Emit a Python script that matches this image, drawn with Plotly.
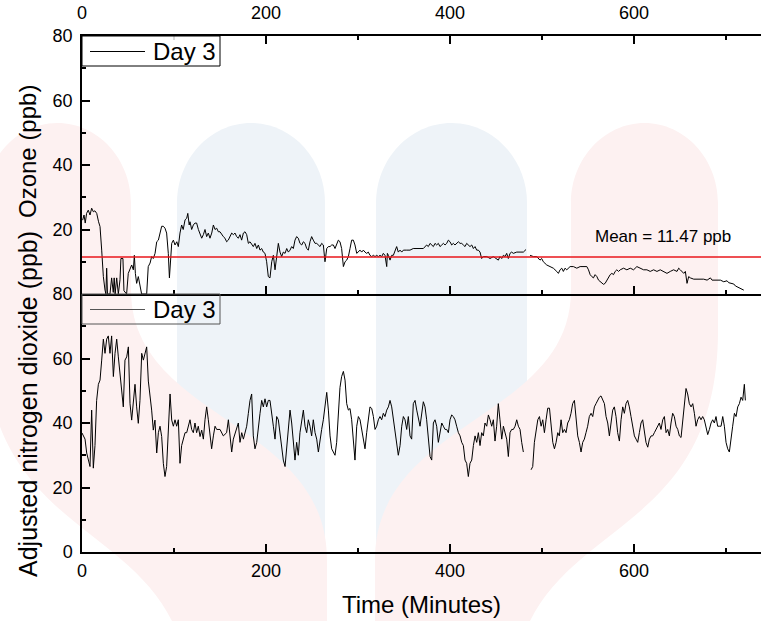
import plotly.graph_objects as go

# ---------------- data ----------------
ozone_time = [0.7, 2.2, 3.5, 5.0, 6.8, 8.7, 10.5, 12.3, 14.0, 16.0, 18.0, 19.6, 21.4, 23.2, 25.0, 26.0, 26.8, 27.7,
              30.4, 32.2, 34.0, 35.0, 36.0, 37.7, 39.5, 41.3, 42.3, 44.5, 45.6, 48.5, 50.3, 52.2, 54.0, 55.8, 56.9,
              58.0, 59.4, 61.2, 63.0, 64.8, 68.5, 70.3, 72.0, 74.0, 75.7, 77.5, 79.4, 81.2, 83.0, 84.8, 86.6, 88.4,
              90.2, 92.0, 93.8, 95.0, 96.4, 97.5, 99.3, 101.1, 103.0, 104.7, 106.5, 108.3, 110.0, 112.0, 113.8,
              115.0, 116.5, 117.4, 119.2, 121.0, 122.8, 124.6, 126.5, 128.3, 130.1, 131.9, 133.7, 135.5, 137.3,
              139.1, 141.0, 142.8, 144.6, 146.4, 148.2, 150.0, 151.8, 153.6, 155.4, 157.2, 159.0, 160.9, 162.7,
              164.5, 166.3, 168.1, 169.9, 171.7, 173.5, 175.4, 177.2, 179.0, 180.8, 182.6, 184.4, 186.2, 188.0,
              189.9, 191.7, 193.5, 195.3, 197.1, 198.9, 200.7, 202.5, 204.3, 206.2, 208.0, 209.8, 211.6, 213.4,
              215.2, 217.0, 218.8, 220.7, 222.5, 224.3, 226.1, 227.9, 229.7, 231.5, 233.3, 235.1, 236.9, 238.8,
              240.6, 242.4, 244.2, 246.0, 247.8, 249.6, 251.4, 253.3, 255.1, 256.9, 258.7, 260.5, 262.3, 264.1,
              265.2, 266.0, 267.8, 269.6, 271.4, 273.2, 275.0, 276.8, 278.6, 280.4, 282.2, 284.1, 285.9, 287.7,
              289.5, 291.3, 293.1, 294.9, 296.7, 298.6, 300.4, 302.2, 304.0, 305.8, 307.6, 309.4, 311.2, 313.0,
              314.9, 316.7, 318.5, 320.3, 322.1, 323.9, 325.7, 327.5, 329.3, 331.2, 331.9, 333.0, 334.8, 336.6,
              338.4, 340.2, 342.0, 343.8, 345.7, 347.5, 349.3, 353.0, 356.5, 360.0, 363.8, 367.4,
              371.0, 374.6, 376.4, 378.3, 380.1, 381.9, 383.7, 385.5, 387.3, 389.1, 391.0, 392.8, 394.6, 396.4,
              398.2, 400.0, 401.8, 403.6, 405.4, 407.2, 409.1, 410.9, 412.7, 414.5, 416.3, 418.1, 419.9, 421.7,
              423.6, 425.4, 427.2, 429.0, 430.8, 432.6, 434.4, 436.2, 440.0, 443.5, 447.1, 450.7, 452.5, 454.3,
              456.2, 458.0, 459.8, 461.6, 463.4, 465.2, 467.0, 468.8, 472.5, 476.1, 479.7, 482.6, 484.5,
              487.0, 490.6, 494.2, 496.0, 497.8, 499.6, 501.4, 505.1, 508.7, 512.3, 516.0, 517.8, 519.6, 521.4,
              523.2, 525.0, 526.9, 530.5, 534.1, 537.8, 541.4, 545.0, 548.7, 550.5, 552.3, 554.1, 555.9, 557.7,
              559.6, 561.4, 563.2, 565.0, 566.8, 568.6, 570.4, 572.3, 574.1, 575.9, 577.7, 579.5, 581.3, 583.2,
              585.0, 588.6, 592.2, 595.9, 599.5, 603.1, 606.8, 610.4, 614.0, 617.6, 621.3, 624.9, 628.5, 632.2,
              635.8, 639.4, 643.0, 646.7, 648.5, 650.3, 652.1, 654.0, 655.8, 657.6, 659.4, 661.2, 664.9, 668.5,
              672.1, 675.7, 679.4, 683.0, 684.8, 686.6, 690.3, 693.9, 697.5, 701.1, 702.9, 704.8, 708.4, 710.2,
              712.0, 715.6, 719.3]
ozone_ppb = [22.9, 24.5, 22.0, 25.0, 26.0, 24.5, 26.6, 25.5, 25.8, 25.0, 22.4, 20.9, 13.6, 5.4, 1.2, 0.0, 8.0, 0.0,
             0.0, 5.0, 0.5, 5.0, 0.0, 5.0, 0.0, 4.4, 11.0, 11.0, 1.0, 0.0, 6.4, 7.5, 9.0, 7.5, 12.0,
             6.4, 3.3, 5.4, 2.2, 0.0, 0.0, 0.0, 8.5, 9.6, 11.6, 11.0, 12.6, 16.2, 16.7, 19.3, 21.0, 21.0,
             20.4, 18.9, 12.6, 5.0, 12.6, 15.7, 16.7, 15.2, 16.2, 14.7, 18.9, 21.4, 20.0, 23.0, 23.5,
             25.0, 21.4, 22.4, 20.0, 21.4, 22.0, 22.0, 20.0, 18.4, 17.3, 18.4, 20.0, 17.8, 18.9,
             17.3, 18.9, 21.4, 20.0, 20.4, 19.3, 19.3, 18.4, 17.8, 17.3, 16.2, 16.7, 17.8, 18.9,
             18.4, 18.9, 17.8, 17.3, 18.4, 16.7, 18.9, 19.3, 18.4, 15.7, 16.2, 15.2, 14.7, 15.7,
             14.1, 15.2, 13.6, 14.1, 13.0, 12.6, 10.0, 5.4, 5.0, 10.0, 12.0, 7.5, 11.0, 15.7,
             13.0, 11.6, 13.0, 12.6, 14.1, 13.0, 13.6, 14.7, 14.1, 16.7, 17.8, 17.3, 15.7, 15.2,
             16.2, 15.7, 14.1, 13.6, 16.2, 17.8, 16.7, 15.7, 15.7, 15.2, 14.7, 15.7, 15.2, 10.0,
             13.0, 14.1, 14.7, 14.7, 15.2, 15.2, 14.1, 15.7, 16.7, 16.2, 14.1, 8.5, 10.0, 10.5,
             11.6, 14.1, 16.7, 16.7, 15.2, 12.6, 13.0, 13.6, 13.0, 13.6, 13.0, 12.6, 13.0, 12.0,
             11.6, 12.0, 11.6, 12.0, 11.6, 12.0, 11.6, 12.6, 12.0, 8.5, 12.6, 12.0, 10.5, 12.0,
             12.0, 13.6, 14.7, 13.0, 13.6, 13.0, 13.6, 13.6, 13.6, 14.1, 14.1, 14.2,
             14.1, 15.2, 14.7, 15.7, 15.2, 14.7, 15.7, 15.2, 15.7, 14.7, 15.2, 15.7, 15.2, 15.7,
             16.7, 16.2, 15.2, 15.7, 15.2, 15.7, 16.2, 15.7, 15.7, 15.2, 14.7, 15.7, 15.2, 14.7,
             15.2, 14.1, 14.7, 13.6, 13.6, 13.0, 11.0, 11.6, 11.6, 11.0, 11.6, 11.0, 10.5, 11.6,
             11.0, 12.0, 11.6, 12.6, 11.0, 12.6, 13.0, 12.6, 13.0, 13.0, 13.0, 13.8, None,
             12.0, 11.6, 11.6, 11.0, 10.5, 11.0, 10.0, 9.0, 8.5, 8.0, 7.0, 6.4, 7.5, 8.0,
             7.0, 8.0, 7.5, 8.5, 8.5, 8.0, 8.5, 8.5, 8.5, 7.5, 6.0, 5.4, 5.0, 6.0,
             5.4, 4.3, 3.8, 3.3, 3.0, 3.3, 4.3, 5.0, 6.0, 6.4, 6.0, 7.0, 7.5, 7.0,
             7.5, 8.0, 7.5, 8.0, 7.5, 8.5, 8.0, 7.5, 7.5, 7.0, 7.5, 7.0, 7.5, 7.0,
             6.4, 7.0, 7.5, 7.0, 8.0, 7.5, 7.0, 6.4, 7.0, 3.3, 5.4, 5.0, 4.6, 4.6,
             4.6, 4.6, 4.3, 5.0, 4.3, 4.3, 4.3, 4.3, 3.8, 4.1, 3.5, 3.3, 3.1, 2.5,
             2.2, 1.7, 1.2]

no2_time = [0.0, 3.3, 5.1, 8.7, 10.5, 12.3, 14.1, 15.9, 17.8, 19.6, 21.4, 23.2, 25.0, 26.8, 28.6, 30.4, 32.2,
            34.1, 35.9, 37.7, 39.5, 41.3, 43.1, 44.9, 46.7, 48.6, 50.4, 52.2, 54.0, 55.8, 57.6, 59.4, 61.2,
            63.0, 64.9, 66.7, 68.5, 70.3, 72.1, 73.9, 75.7, 77.5, 79.3, 81.2, 83.0, 84.8, 86.6, 88.4, 90.2,
            92.0, 93.8, 95.7, 97.5, 99.3, 101.1, 102.9, 104.7, 106.5, 108.3, 110.1, 112.0, 113.8, 115.6,
            117.4, 119.2, 121.0, 122.8, 124.6, 126.4, 128.3, 130.1, 131.9, 133.7, 135.5, 137.3, 139.1,
            140.9, 142.8, 144.6, 146.4, 150.0, 153.6, 157.2, 159.1, 160.9, 162.7, 164.5, 168.1, 169.9,
            171.7, 173.6, 175.4, 179.0, 180.8, 182.6, 184.4, 186.2, 188.0, 189.9, 193.5, 195.3, 197.1,
            198.9, 200.7, 202.5, 204.3, 206.2, 208.0, 209.8, 211.6, 213.4, 215.2, 217.0, 218.8, 220.7,
            222.5, 224.3, 226.1, 227.9, 229.7, 231.5, 233.3, 235.1, 236.9, 238.8, 240.6, 242.4, 244.2,
            246.0, 247.8, 249.6, 251.4, 253.3, 255.1, 256.9, 258.7, 260.5, 262.3, 264.1, 266.0, 267.8,
            269.6, 271.4, 273.2, 275.0, 276.8, 278.6, 280.4, 282.2, 284.1, 285.9, 287.7, 289.5, 291.3,
            293.1, 294.9, 296.7, 298.6, 300.4, 302.2, 304.0, 305.8, 307.6, 309.4, 311.2, 313.0, 314.9,
            316.7, 318.5, 320.3, 322.1, 323.9, 325.7, 327.5, 329.3, 331.2, 333.0, 334.8, 336.6, 338.4,
            340.2, 342.0, 343.8, 345.7, 347.5, 349.3, 351.1, 352.9, 354.7, 356.5, 358.3, 360.1, 362.0,
            363.8, 365.6, 367.4, 371.0, 372.8, 374.6, 376.4, 378.3, 380.1, 381.9, 383.7, 385.5, 387.3,
            389.1, 391.0, 392.8, 394.6, 396.4, 398.2, 400.0, 401.8, 403.6, 405.4, 407.2, 409.1, 410.9,
            412.7, 414.5, 416.3, 418.1, 419.9, 421.7, 423.6, 425.4, 427.2, 429.0, 430.8, 432.6, 434.4,
            436.2, 438.0, 439.9, 441.7, 443.5, 445.3, 447.1, 448.9, 450.7, 452.5, 454.3, 456.2, 458.0,
            459.8, 461.6, 463.4, 465.2, 467.0, 468.8, 470.7, 472.5, 474.3, 476.1, 477.9, 479.7, 484.0,
            488.1, 489.9, 491.7, 493.5, 495.4, 497.2, 499.0, 500.8, 502.6, 504.4, 506.2, 508.1, 509.9,
            511.7, 513.5, 515.3, 517.1, 518.8, 520.7, 522.5, 524.3, 526.1, 527.9, 529.7, 531.5, 533.3,
            535.2, 537.0, 538.8, 540.6, 542.4, 544.2, 546.0, 547.8, 549.6, 551.4, 553.3, 555.1, 556.9,
            558.7, 560.5, 562.3, 564.1, 565.9, 567.8, 569.6, 571.4, 573.2, 575.0, 576.8, 578.6, 580.4,
            582.2, 584.1, 585.9, 587.7, 589.5, 591.3, 593.1, 594.9, 596.7, 598.6, 600.4, 602.2, 604.0,
            605.8, 607.6, 609.4, 611.2, 613.0, 614.9, 616.7, 618.5, 620.3, 622.1, 623.9, 625.7, 627.5,
            629.3, 631.2, 633.0, 634.8, 636.6, 638.4, 640.2, 642.0, 643.8, 645.7, 647.5, 649.3, 651.1,
            652.9, 654.7, 656.5, 658.3, 660.1, 662.0, 663.8, 665.6, 667.4, 669.2, 671.0, 672.8, 674.6,
            676.4, 678.3, 680.1, 681.9, 683.7, 685.5, 687.3, 689.1, 690.9, 692.8, 694.6, 696.4, 698.2,
            700.0, 701.8, 703.6, 705.4, 707.2, 709.1, 710.9, 712.7, 714.5, 716.3, 718.1, 719.9, 721.0]
no2_ppb = [36.9, 35.0, 30.7, 26.5, 44.0, 26.0, 33.0, 47.0, 52.0, 53.3, 59.5, 66.0, 61.6, 66.0, 67.0, 61.6, 67.0,
           54.4, 61.6, 66.0, 60.5, 55.4, 50.2, 45.0, 59.5, 60.5, 63.6, 46.0, 40.9, 47.0, 52.0, 45.0, 39.9,
           47.0, 61.6, 59.5, 61.6, 63.6, 53.0, 49.0, 44.0, 37.8, 40.9, 30.7, 37.0, 39.0, 35.8, 27.5, 23.4,
           26.5, 39.0, 49.0, 40.9, 39.0, 41.0, 39.0, 41.0, 27.5, 33.0, 35.0, 37.0, 37.0, 39.0,
           41.0, 38.0, 37.0, 40.0, 37.0, 39.0, 35.8, 37.8, 35.0, 41.0, 45.0, 41.0, 36.0,
           32.0, 36.0, 39.0, 38.0, 38.0, 36.0, 37.0, 41.0, 35.0, 31.0, 35.0, 38.0, 40.0,
           34.0, 37.0, 35.0, 39.0, 43.0, 47.0, 49.0, 36.0, 32.0, 34.0, 43.0, 47.0, 45.0,
           47.5, 45.0, 47.0, 47.0, 42.0, 39.0, 35.0, 42.0, 41.0, 37.0, 33.0, 28.5, 26.5,
           33.0, 37.0, 44.0, 40.0, 33.0, 28.5, 34.0, 30.0, 37.0, 41.0, 44.0, 39.0, 37.0,
           41.0, 39.0, 36.0, 41.0, 37.0, 35.0, 31.0, 35.0, 38.0, 41.0, 46.0, 49.5, 44.0,
           36.0, 32.0, 31.0, 30.0, 34.0, 42.0, 51.0, 54.4, 56.0, 53.3, 46.0, 44.0, 44.5,
           41.0, 33.0, 28.5, 39.0, 42.0, 41.0, 38.0, 34.0, 32.0, 37.0, 41.0, 45.0, 44.5,
           42.0, 38.0, 39.0, 41.0, 42.0, 41.0, 43.0, 42.0, 44.0, 45.0, 47.0, 45.0, 41.0,
           38.0, 33.0, 30.0, 33.0, 39.0, 42.0, 41.0, 38.0, 42.0, 36.0, 35.0, 46.0, 47.0,
           44.0, 41.0, 39.0, 46.6, 45.0, 41.0, 34.0, 29.6, 28.5, 40.0, 41.0, 39.0, 34.0,
           37.0, 40.0, 39.0, 38.0, 38.0, 37.0, 41.0, 42.5, 42.0, 41.0, 39.0, 37.0, 36.0,
           34.0, 33.0, 28.5, 27.5, 23.4, 27.5, 28.5, 33.0, 36.0, 34.0, 37.0, 33.0, 37.0,
           36.0, 40.0, 39.0, 42.5, 41.0, 39.0, 41.0, 34.4, 39.0, 46.0, 41.0, 35.0, 39.0,
           37.0, 35.0, 29.6, 37.0, 38.0, 38.0, 39.0, 41.0, 39.0, 38.0, 34.0, 31.0, None,
           25.5, 26.5, 34.0, 37.0, 41.0, 42.0, 39.0, 41.0, 37.0, 41.0, 44.6, 44.6, 38.0,
           34.0, 32.0, 34.0, 37.0, 36.0, 41.0, 37.0, 38.0, 37.0, 40.0, 41.0, 43.0, 46.0,
           47.0, 42.0, 36.0, 34.0, 31.0, 34.0, 35.0, 37.0, 39.0, 42.0, 43.0, 42.0, 45.0,
           46.0, 47.0, 48.0, 48.4, 47.0, 46.0, 42.0, 40.0, 36.0, 41.0, 44.0, 45.0, 42.0,
           37.0, 34.4, 41.0, 45.0, 43.0, 46.0, 47.0, 45.0, 42.0, 39.0, 36.0, 35.0, 34.0,
           37.0, 40.0, 41.0, 37.0, 34.0, 32.5, 35.0, 36.0, 36.0, 37.0, 38.0, 39.0, 40.0,
           38.0, 41.0, 42.0, 37.0, 38.0, 36.0, 40.0, 43.0, 42.0, 39.0, 38.0, 36.0, 35.5,
           41.0, 45.0, 50.7, 49.0, 46.0, 45.0, 46.0, 43.0, 39.0, 41.0, 42.0, 41.0, 42.0,
           41.0, 38.0, 36.4, 38.0, 40.0, 41.0, 40.0, 42.0, 39.0, 39.0, 39.0, 42.0, 39.0,
           34.0, 32.0, 31.0, 36.0, 39.0, 43.0, 42.0, 45.0, 46.0, 48.0, 47.0, 52.0, 47.0]

ozone_mean = 11.47
mean_label = "Mean = 11.47 ppb"
series_name = "Day 3"
x_tick_vals = [0, 200, 400, 600]
top_y_tick_vals = [20, 40, 60, 80]
bottom_y_tick_vals = [0, 20, 40, 60, 80]
x_range = [0, 738]
y_range = [0, 80]

FONT = "Arial, 'Liberation Sans', sans-serif"

# ---------------- figure geometry (pixels) ----------------
W, H = 761, 621
L, R, T, B = 82, 0, 36, 69
PW, PH = W - L - R, H - T - B


def px_x(x):
    return (x - L) / PW


def px_y(y):
    return (H - B - y) / PH


def pp(x, y):
    """pixel -> paper coordinates for decorative paths"""
    return f"{px_x(x):.4f},{px_y(y):.4f}"


def path(cmds):
    return " ".join(c if isinstance(c, str) else pp(*c) for c in cmds)


PINK = "#fdf1f1"
BLUE = "#eef3f8"

shapes = []
# faint watermark (logo) behind the plot
blue_b = path(["M", (177, 621), "L", (177, 203), "C", (177, 159), (210, 123), (251, 123),
               "C", (292, 123), (325, 159), (325, 203), "L", (325, 621), "Z"])
blue_c = path(["M", (376, 621), "L", (376, 203), "C", (376, 159), (410, 123), (451.5, 123),
               "C", (493, 123), (527, 159), (527, 203), "L", (527, 621), "Z"])
red_a = path(["M", (-16, 203), "C", (-16, 159), (17, 123), (57.5, 123), "C", (98, 123), (131, 159), (131, 203),
              "L", (131, 290), "C", (131, 420), (327, 420), (327, 560), "L", (327, 621), "L", (172, 621),
              "C", (122, 520), (-16, 520), (-16, 330), "Z"])
red_d = path(["M", (718, 203), "C", (718, 159), (685, 123), (644.5, 123), "C", (604, 123), (571, 159), (571, 203),
              "L", (571, 290), "C", (571, 420), (375, 420), (375, 560), "L", (375, 621), "L", (530, 621),
              "C", (580, 520), (718, 520), (718, 330), "Z"])
for p, col in [(blue_b, BLUE), (blue_c, BLUE), (red_a, PINK), (red_d, PINK)]:
    shapes.append(dict(type="path", path=p, xref="paper", yref="paper", fillcolor=col,
                       line=dict(width=0), layer="below"))

# mean line on the ozone panel
shapes.append(dict(type="line", xref="x2 domain", x0=0, x1=1, yref="y2", y0=ozone_mean, y1=ozone_mean,
                   line=dict(color="#e8161b", width=1.3), layer="above"))

annotations = [
    dict(text="Ozone (ppb)", xref="paper", yref="paper", x=px_x(28), y=px_y(152),
         xanchor="center", yanchor="middle", textangle=-90, showarrow=False,
         font=dict(family=FONT, size=24, color="black")),
    dict(text="Adjusted nitrogen dioxide (ppb)", xref="paper", yref="paper", x=px_x(28), y=px_y(404),
         xanchor="center", yanchor="middle", textangle=-90, showarrow=False,
         font=dict(family=FONT, size=25, color="black")),
    dict(text=mean_label, xref="x2", yref="y2", x=631, y=17.7, showarrow=False,
         font=dict(family=FONT, size=17, color="black")),
]

# legend boxes ("Day 3") drawn in the upper-left corner of each panel
for top, edge, linecol in [(36, "black", "black"), (294, "#555555", "#555555")]:
    shapes.append(dict(type="rect", xref="paper", yref="paper", x0=px_x(82), x1=px_x(220),
                       y0=px_y(top), y1=px_y(top + 30), line=dict(color=edge, width=1),
                       fillcolor="rgba(255,255,255,0.85)" if top == 36 else "rgba(0,0,0,0)", layer="above"))
    shapes.append(dict(type="line", xref="paper", yref="paper", x0=px_x(90), x1=px_x(145),
                       y0=px_y(top + 15.5), y1=px_y(top + 15.5), line=dict(color=linecol, width=1),
                       layer="above"))
    annotations.append(dict(text=series_name, xref="paper", yref="paper", x=px_x(151), y=px_y(top + 15.5),
                            xanchor="left", yanchor="middle", showarrow=False,
                            font=dict(family=FONT, size=24, color="black")))

fig = go.Figure()
fig.add_trace(go.Scatter(x=ozone_time, y=ozone_ppb, mode="lines", name=series_name, showlegend=False,
                         line=dict(color="black", width=1), xaxis="x2", yaxis="y2"))
fig.add_trace(go.Scatter(x=no2_time, y=no2_ppb, mode="lines", name=series_name, showlegend=False,
                         line=dict(color="black", width=1), xaxis="x", yaxis="y"))

axis_common = dict(showline=True, linecolor="black", linewidth=1.5, ticks="inside", ticklen=8, tickwidth=1.5,
                   tickcolor="black", showgrid=False, zeroline=False,
                   tickfont=dict(family=FONT, size=18, color="black"))
minor = dict(ticks="inside", ticklen=4, tickwidth=1.5, tickcolor="black", dtick=10, showgrid=False)
minor_x = dict(ticks="inside", ticklen=4, tickwidth=1.5, tickcolor="black", dtick=100, showgrid=False)

fig.update_layout(
    width=W, height=H,
    margin=dict(l=L, r=R, t=T, b=B, pad=0),
    paper_bgcolor="white", plot_bgcolor="rgba(0,0,0,0)",
    font=dict(family=FONT, color="black"),
    showlegend=False,
    xaxis=dict(domain=[0, 1], anchor="y", range=x_range, tickvals=x_tick_vals, minor=minor_x,
               ticklabelstandoff=2, mirror=False,
               title=dict(text="Time (Minutes)", font=dict(family=FONT, size=24), standoff=16),
               **axis_common),
    xaxis2=dict(domain=[0, 1], anchor="y2", side="top", range=x_range, tickvals=x_tick_vals, minor=minor_x,
                ticklabelstandoff=8, mirror="ticks", **axis_common),
    yaxis=dict(domain=[0, 0.5], anchor="x", range=y_range, tickvals=bottom_y_tick_vals, minor=minor,
               ticklabelstandoff=4, **axis_common),
    yaxis2=dict(domain=[0.5, 1], anchor="x2", range=y_range, tickvals=top_y_tick_vals, minor=minor,
                ticklabelstandoff=4, **axis_common),
    shapes=shapes,
    annotations=annotations,
)

fig.write_html("out.html")
